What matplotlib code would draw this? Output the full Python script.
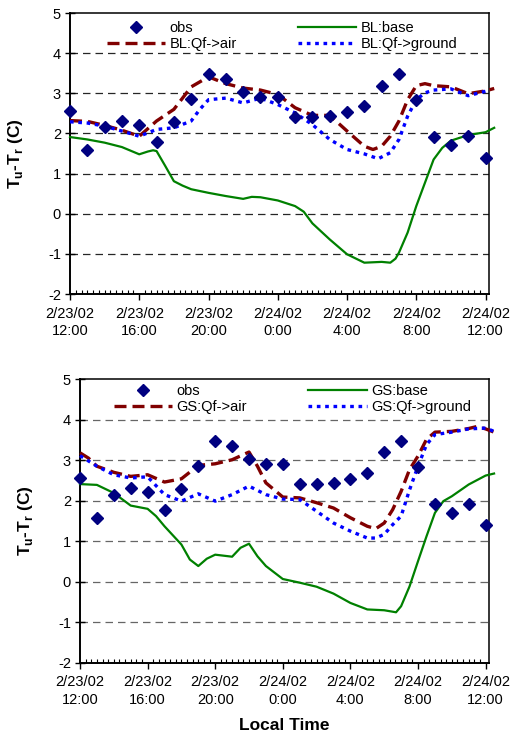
import matplotlib
matplotlib.use('Agg')
import matplotlib.pyplot as plt
import numpy as np

plt.rcParams['font.family'] = ['Liberation Sans', 'DejaVu Sans']
plt.rcParams['mathtext.fontset'] = 'custom'
plt.rcParams['mathtext.rm'] = 'Liberation Sans:bold'
plt.rcParams['axes.unicode_minus'] = False

# hours since 2/23/02 12:00
obs_t = list(range(25))
obs = [2.57, 1.58, 2.15, 2.32, 2.21, 1.78, 2.29, 2.85, 3.48, 3.36, 3.02, 2.91, 2.91,
       2.41, 2.40, 2.43, 2.54, 2.69, 3.19, 3.47, 2.83, 1.92, 1.70, 1.93, 1.39]

# top panel (BL)
bl_base_t = [0, 1, 2, 3, 4, 4.5, 4.8, 5, 5.5, 6, 6.5, 7, 8, 9, 10, 10.5, 11, 12, 13, 13.5,
             14, 15, 16, 17, 18, 18.5, 18.8, 19, 19.5, 20, 20.5, 21, 21.5, 22, 23, 24, 24.5]
bl_base = [1.91, 1.85, 1.77, 1.66, 1.48, 1.55, 1.58, 1.56, 1.19, 0.81, 0.70, 0.61, 0.52,
           0.44, 0.37, 0.42, 0.41, 0.33, 0.19, 0.05, -0.24, -0.64, -1.01, -1.22, -1.20,
           -1.22, -1.12, -0.97, -0.47, 0.19, 0.77, 1.35, 1.64, 1.82, 1.96, 2.03, 2.14]

bl_air_t = [0, 1, 2, 3, 4, 5, 6, 7, 8, 9, 10, 11, 12, 13, 14, 15, 16, 17, 17.5, 18, 18.5,
            19, 19.5, 20, 20.5, 21, 22, 23, 24, 24.5]
bl_air = [2.32, 2.30, 2.20, 2.08, 1.93, 2.31, 2.60, 3.16, 3.41, 3.24, 3.13, 3.08, 2.97,
          2.64, 2.45, 2.45, 2.06, 1.68, 1.60, 1.68, 1.93, 2.31, 2.84, 3.19, 3.24, 3.19,
          3.16, 2.99, 3.06, 3.12]

bl_gnd_t = [0, 1, 2, 3, 4, 5, 6, 7, 7.5, 8, 9, 10, 11, 12, 13, 14, 15, 16, 17, 17.8, 18.5,
            19, 19.5, 20, 20.5, 21, 22, 23, 24]
bl_gnd = [2.29, 2.26, 2.18, 2.06, 1.93, 2.10, 2.14, 2.31, 2.60, 2.84, 2.88, 2.76, 2.88,
          2.72, 2.51, 2.22, 1.85, 1.60, 1.49, 1.37, 1.52, 1.85, 2.43, 2.84, 3.01, 3.08,
          3.11, 2.94, 3.05]

# bottom panel (GS)
gs_base_t = [0, 1, 2, 3, 4, 4.5, 5, 6, 6.5, 7, 7.5, 8, 9, 9.5, 10, 10.5, 11, 12, 13, 14,
             15, 16, 17, 18, 18.7, 19, 19.5, 20, 20.5, 21, 21.5, 22, 23, 24, 24.5]
gs_base = [2.41, 2.39, 2.19, 1.88, 1.80, 1.62, 1.37, 0.92, 0.55, 0.39, 0.57, 0.67, 0.62,
           0.84, 0.94, 0.63, 0.39, 0.07, -0.02, -0.12, -0.29, -0.52, -0.68, -0.70, -0.75,
           -0.60, -0.11, 0.51, 1.12, 1.70, 1.99, 2.11, 2.40, 2.62, 2.67]

gs_air_t = [0, 0.5, 1, 2, 3, 4, 5, 6, 7, 8, 9, 10, 10.5, 11, 12, 13, 14, 15, 16, 17, 17.5,
            18, 18.5, 19, 19.5, 20, 20.5, 21, 22, 23, 23.5, 24, 24.5]
gs_air = [3.18, 3.05, 2.85, 2.70, 2.60, 2.64, 2.46, 2.54, 2.87, 2.91, 3.01, 3.20, 2.85,
          2.44, 2.09, 2.07, 1.95, 1.82, 1.58, 1.37, 1.31, 1.45, 1.78, 2.23, 2.77, 3.10,
          3.51, 3.69, 3.71, 3.78, 3.83, 3.77, 3.69]

gs_gnd_t = [0, 1, 2, 3, 4, 5, 6, 7, 8, 9, 10, 11, 12, 13, 14, 15, 16, 17, 17.5, 18, 18.5,
            19, 19.5, 20, 20.5, 21, 22, 23, 24, 24.5]
gs_gnd = [3.11, 2.85, 2.64, 2.56, 2.59, 2.15, 1.99, 2.17, 1.99, 2.15, 2.36, 2.15, 2.04,
          2.03, 1.74, 1.45, 1.25, 1.08, 1.08, 1.17, 1.41, 1.62, 2.27, 2.85, 3.38, 3.63,
          3.69, 3.77, 3.79, 3.71]

tick_pos = [0, 4, 8, 12, 16, 20, 24]
tick_labels = ['2/23/02\n12:00', '2/23/02\n16:00', '2/23/02\n20:00', '2/24/02\n0:00',
               '2/24/02\n4:00', '2/24/02\n8:00', '2/24/02\n12:00']

W, H = 513, 746
fig = plt.figure(figsize=(W / 100, H / 100), dpi=100)


def panel(rect, prefix, base_t, base, air_t, air, gnd_t, gnd, grid_color, leg_anchor):
    ax = fig.add_axes(rect)
    for y in [4, 3, 2, 1, 0, -1]:
        ax.axhline(y, color=grid_color, lw=0.9, dashes=(6, 4), zorder=1)
    ax.plot(obs_t, obs, ls='none', marker='D', ms=6.5, color='#000080', label='obs',
            zorder=5, clip_on=False)
    ax.plot(air_t, air, color='#800000', lw=2.4, dashes=(3.6, 1.8),
            label=prefix + ':Qf->air', zorder=3, clip_on=False)
    ax.plot(base_t, base, color='#008000', lw=1.6, label=prefix + ':base',
            zorder=3, clip_on=False)
    ax.plot(gnd_t, gnd, color='#0000ff', lw=2.4, dashes=(1.1, 1.4),
            label=prefix + ':Qf->ground', zorder=4, clip_on=False)
    ax.set_xlim(0, 24.2)
    ax.set_ylim(-2, 5)
    ax.set_yticks(range(-2, 6))
    ax.set_xticks(tick_pos)
    ax.set_xticklabels(tick_labels, fontsize=10.5, linespacing=1.35)
    ax.set_xticks(np.arange(0, 24.2, 1 / 3), minor=True)
    ax.tick_params(axis='x', which='major', direction='out', length=4, width=1, pad=5)
    ax.tick_params(axis='x', which='minor', direction='in', length=3, width=0.8)
    ax.tick_params(axis='y', which='major', direction='inout', length=7, width=1,
                   labelsize=10.5, pad=3)
    for s in ax.spines.values():
        s.set_linewidth(1.1)
    ax.spines['left'].set_linewidth(1.4)
    ax.spines['bottom'].set_linewidth(1.4)
    ax.legend(ncol=2, frameon=False,
              loc='upper left', bbox_to_anchor=leg_anchor, borderpad=0,
              borderaxespad=0, handlelength=4.0, handletextpad=0.3,
              columnspacing=4.2, labelspacing=0.15, fontsize=10.5)
    ax.set_ylabel('T$_\\mathrm{u}$-T$_\\mathrm{r}$ (C)', fontsize=12.5,
                  fontweight='bold')
    return ax


ax1 = panel([70 / W, 1 - 294 / H, 419 / W, 281 / H], 'BL', bl_base_t, bl_base,
            bl_air_t, bl_air, bl_gnd_t, bl_gnd, '0.15', (0.088, 0.972))
ax1.yaxis.set_label_coords(-0.107, 0.5)

ax2 = panel([80 / W, 1 - 663 / H, 409 / W, 284 / H], 'GS', gs_base_t, gs_base,
            gs_air_t, gs_air, gs_gnd_t, gs_gnd, '0.4', (0.083, 0.982))
ax2.yaxis.set_label_coords(-0.11, 0.5)
ax2.set_xlabel('Local Time', fontsize=12.5, fontweight='bold', labelpad=8)

fig.savefig('out.png', dpi=100)
